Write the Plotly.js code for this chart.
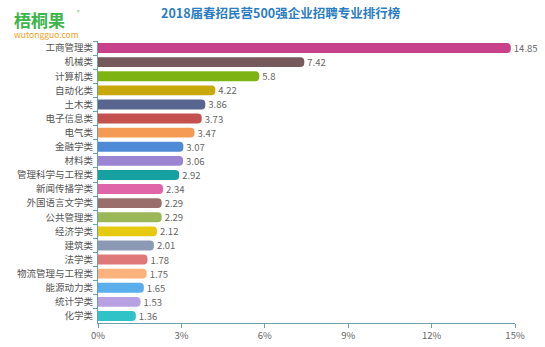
<!DOCTYPE html>
<html>
<head>
<meta charset="utf-8">
<script src="https://cdn.plot.ly/plotly-3.0.1.min.js"></script>
<style>html,body{margin:0;padding:0;background:#fff;}#chart{width:545px;height:347px;}</style>
</head>
<body>
<div id="chart"></div>
<script>
var categories = ["工商管理类","机械类","计算机类","自动化类","土木类","电子信息类","电气类","金融学类","材料类","管理科学与工程类","新闻传播学类","外国语言文学类","公共管理类","经济学类","建筑类","法学类","物流管理与工程类","能源动力类","统计学类","化学类"];
var values = [14.85,7.42,5.8,4.22,3.86,3.73,3.47,3.07,3.06,2.92,2.34,2.29,2.29,2.12,2.01,1.78,1.75,1.65,1.53,1.36];
var barColors = ["#c7428a","#76595a","#7db414","#c9a80c","#58668f","#c4504f","#f59a55","#4f8ad6","#9b84d2","#16a1a0","#e065a8","#9a6e6b","#9ab857","#e6ca10","#8b99b5","#df7878","#fcb27c","#5aaeec","#b8a1e2","#2fc2c6"];
var xTicks = [0,3,6,9,12,15];

var font = "'Microsoft YaHei','Noto Sans CJK SC','Noto Sans',sans-serif";
var trace = {
  type: 'bar',
  orientation: 'h',
  y: categories,
  x: values,
  text: values.map(String),
  textposition: 'outside',
  constraintext: 'none',
  cliponaxis: false,
  textfont: {size: 9.5, color: '#666', family: font},
  marker: {color: barColors, cornerradius: 5},
  hoverinfo: 'none'
};
var layout = {
  width: 545, height: 347,
  margin: {l: 98, r: 30, t: 41, b: 24},
  paper_bgcolor: '#fff', plot_bgcolor: '#fff',
  bargap: 0.3,
  showlegend: false,
  font: {family: font, size: 9, color: '#666'},
  title: {text: '<b>2018届春招民营500强企业招聘专业排行榜</b>', font: {size: 12.5, color: '#2b7dc4', family: font}, x: 0.515, xanchor: 'center', y: 0.96, yanchor: 'middle'},
  xaxis: {range: [0, 15], tickvals: xTicks, ticktext: xTicks.map(function(v){return v + '%';}), showgrid: false, zeroline: false, showline: true, linecolor: '#6aa3ab', linewidth: 1, ticks: 'outside', ticklen: 4, tickcolor: '#6aa3ab', tickfont: {size: 9.5, color: '#666'}, fixedrange: true},
  yaxis: {type: 'category', autorange: 'reversed', showgrid: false, zeroline: false, showline: true, linecolor: '#6aa3ab', linewidth: 1, ticks: 'outside', tickson: 'boundaries', ticklen: 4, tickcolor: '#6aa3ab', tickfont: {size: 9.5, color: '#555'}, ticklabelstandoff: 2, fixedrange: true},
  annotations: [
    {xref: 'paper', yref: 'paper', x: -0.205, y: 1.078, xanchor: 'left', yanchor: 'middle', text: '<b>梧桐果</b>', showarrow: false, borderpad: 0, font: {size: 17, color: '#3cb54a', family: font}},
    {xref: 'paper', yref: 'paper', x: -0.052, y: 1.106, xanchor: 'left', yanchor: 'middle', text: '®', showarrow: false, borderpad: 0, font: {size: 5, color: '#3cb54a', family: font}},
    {xref: 'paper', yref: 'paper', x: -0.205, y: 1.024, xanchor: 'left', yanchor: 'middle', text: 'wutongguo.com', showarrow: false, borderpad: 0, font: {size: 8.5, color: '#f0a020', family: font}}
  ]
};
Plotly.newPlot('chart', [trace], layout, {displayModeBar: false, staticPlot: true});
</script>
</body>
</html>
